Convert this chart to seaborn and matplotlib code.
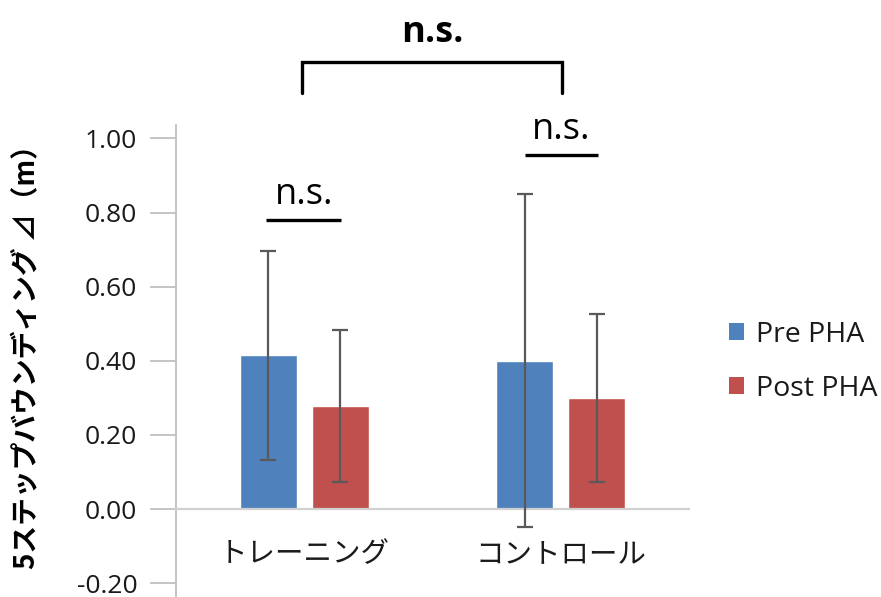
import matplotlib
matplotlib.use("Agg")
import matplotlib.pyplot as plt
import seaborn as sns
import pandas as pd
from matplotlib.patches import Patch

# ---- data ----
categories = ["トレーニング", "コントロール"]
series = ["Pre PHA", "Post PHA"]
pre_means = [0.415, 0.400]
post_means = [0.278, 0.300]
pre_sd = [0.282, 0.449]
post_sd = [0.204, 0.227]
y_ticks = [-0.20, 0.00, 0.20, 0.40, 0.60, 0.80, 1.00]
ylabel = "5ステップバウンディング ⊿（m）"
sig_label = "n.s."

colors = ["#4F81BD", "#C0504D"]

sns.set_theme(style="white")
plt.rcParams["font.family"] = ["Open Sans", "Noto Sans CJK JP", "DejaVu Sans"]

df = pd.DataFrame({
    "cat": categories * 2,
    "series": [series[0]] * 2 + [series[1]] * 2,
    "val": pre_means + post_means,
    "sd": pre_sd + post_sd,
})

fig = plt.figure(figsize=(8.81, 5.97), dpi=100)
ax = fig.add_axes([0.1998, 0.0, 0.5823, 0.7906])

sns.barplot(data=df, x="cat", y="val", hue="series", order=categories,
            hue_order=series, palette=colors, width=0.5625, gap=0.21,
            errorbar=None, saturation=1, legend=False, ax=ax)

# error bars at bar centers
sds = {(s, c): d for s, c, d in zip(df["series"], df["cat"], df["sd"])}
for i, s in enumerate(series):
    cont = ax.containers[i]
    for j, bar in enumerate(cont.patches):
        xc = bar.get_x() + bar.get_width() / 2
        h = bar.get_height()
        ax.errorbar(xc, h, yerr=sds[(s, categories[j])], color="#595959",
                    elinewidth=1.6, capsize=5.5, capthick=1.6, zorder=5)

ax.set_xlim(-0.5, 1.5)
ax.set_ylim(-0.237, 1.036)
ax.set_yticks(y_ticks)
ax.set_yticklabels([f"{v:.2f}" for v in y_ticks])
ax.set_xlabel("")
ax.set_ylabel("")

for s in ["top", "right"]:
    ax.spines[s].set_visible(False)
ax.spines["left"].set_color("#BFBFBF")
ax.spines["left"].set_linewidth(1.3)
ax.spines["bottom"].set_position(("data", 0))
ax.spines["bottom"].set_color("#D0D0D0")
ax.spines["bottom"].set_linewidth(1.6)

ax.tick_params(axis="y", length=19, width=1.3, color="#BFBFBF", pad=9,
               labelsize=19, labelcolor="#1a1a1a", left=True)
ax.tick_params(axis="x", length=0, pad=23, labelsize=20.5, labelcolor="#1a1a1a")

fig.text(0.031, 0.413, ylabel, rotation=90, ha="center", va="center",
         fontsize=20, fontweight="bold", color="black",
         family=["Noto Sans CJK JP", "DejaVu Sans"])

# significance annotations
lw = 2.4
ax.plot([-0.15, 0.145], [0.78, 0.78], color="black", lw=lw, clip_on=False,
        solid_capstyle="butt")
ax.text(0.0, 0.80, sig_label, ha="center", va="bottom", fontsize=26, color="black")
ax.plot([0.859, 1.145], [0.955, 0.955], color="black", lw=lw, clip_on=False,
        solid_capstyle="butt")
ax.text(1.0, 0.975, sig_label, ha="center", va="bottom", fontsize=26, color="black")
ax.plot([-0.008, -0.008, 1.004, 1.004], [1.122, 1.206, 1.206, 1.122],
        color="black", lw=lw, clip_on=False, solid_joinstyle="miter")
ax.text(0.5, 1.235, sig_label, ha="center", va="bottom", fontsize=26,
        fontweight="bold", color="black")

handles = [Patch(facecolor=c, edgecolor="none", label=s) for c, s in zip(colors, series)]
fig.legend(handles=handles, loc="center left", bbox_to_anchor=(0.798, 0.394),
           frameon=False, fontsize=20.5, handlelength=0.55, handleheight=0.55,
           handletextpad=0.42, labelspacing=0.9, labelcolor="#1a1a1a")

fig.savefig("out.png", dpi=100)
